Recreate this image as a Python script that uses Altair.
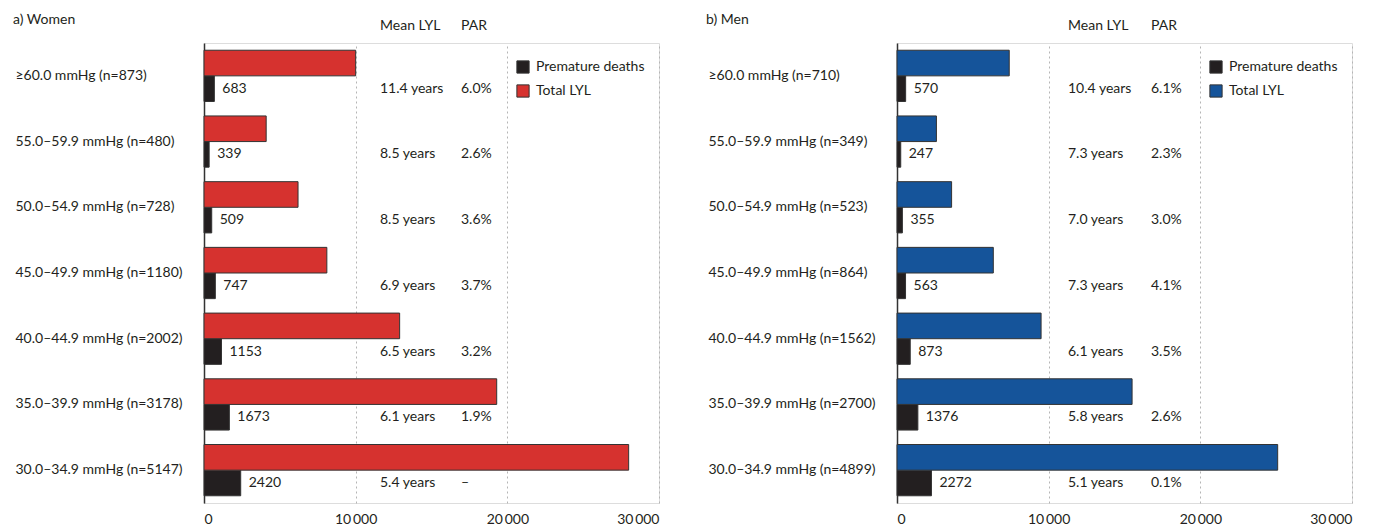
import altair as alt
import pandas as pd

# ---- data -------------------------------------------------------------
women_groups = ["≥60.0 mmHg (n=873)", "55.0–59.9 mmHg (n=480)", "50.0–54.9 mmHg (n=728)",
                "45.0–49.9 mmHg (n=1180)", "40.0–44.9 mmHg (n=2002)", "35.0–39.9 mmHg (n=3178)",
                "30.0–34.9 mmHg (n=5147)"]
women_deaths = [683, 339, 509, 747, 1153, 1673, 2420]
women_lyl = [10000, 4100, 6200, 8100, 12900, 19300, 28000]
women_mean = ["11.4 years", "8.5 years", "8.5 years", "6.9 years", "6.5 years", "6.1 years", "5.4 years"]
women_par = ["6.0%", "2.6%", "3.6%", "3.7%", "3.2%", "1.9%", "–"]

men_groups = ["≥60.0 mmHg (n=710)", "55.0–59.9 mmHg (n=349)", "50.0–54.9 mmHg (n=523)",
              "45.0–49.9 mmHg (n=864)", "40.0–44.9 mmHg (n=1562)", "35.0–39.9 mmHg (n=2700)",
              "30.0–34.9 mmHg (n=4899)"]
men_deaths = [570, 247, 355, 563, 873, 1376, 2272]
men_lyl = [7400, 2600, 3600, 6350, 9500, 15500, 25100]
men_mean = ["10.4 years", "7.3 years", "7.0 years", "7.3 years", "6.1 years", "5.8 years", "5.1 years"]
men_par = ["6.1%", "2.3%", "3.0%", "4.1%", "3.5%", "2.6%", "0.1%"]

x_ticks = [0, 10000, 20000, 30000]
series = ["Premature deaths", "Total LYL"]

FONT = "Lato"
TEXT = "#231f20"
DARK = "#231f20"
RED = "#d6322f"
BLUE = "#15549a"


def panel(title, groups, deaths, lyl, mean, par, colour, mean_x, par_x):
    long = pd.DataFrame({
        "group": groups * 2,
        "series": ["Premature deaths"] * len(groups) + ["Total LYL"] * len(groups),
        "value": deaths + lyl,
    })
    table = pd.DataFrame({
        "group": groups,
        "series": ["Premature deaths"] * len(groups),
        "deaths": deaths,
        "mean": mean,
        "par": par,
    })

    y = alt.Y("group:N", sort=groups, title=None,
              scale=alt.Scale(paddingInner=0.22, paddingOuter=0.11),
              axis=alt.Axis(labelAlign="left", labelPadding=189, ticks=False,
                            domainColor="#333333", domainWidth=1.5,
                            labelFont=FONT, labelFontSize=14, labelColor=TEXT))
    y_off = alt.YOffset("series:N", sort=["Total LYL", "Premature deaths"],
                        scale=alt.Scale(paddingInner=0, paddingOuter=0))
    x = alt.X("value:Q", title=None,
              scale=alt.Scale(domain=[0, 30000], nice=False),
              axis=alt.Axis(values=x_ticks, domain=False, ticks=False, labelPadding=9,
                            labelFont=FONT, labelFontSize=14, labelColor=TEXT,
                            grid=True, gridDash=[2, 3], gridColor="#b5b5b5", gridWidth=1,
                            labelExpr="datum.value == 0 ? '0' : replace(format(datum.value, ','), ',', '\u2009')"))

    bars = alt.Chart(long).mark_bar(stroke="#333333", strokeWidth=1).encode(
        y=y, yOffset=y_off, x=x,
        color=alt.Color("series:N", sort=series,
                        scale=alt.Scale(domain=series, range=[DARK, colour]),
                        legend=alt.Legend(title=None, orient="none", legendX=312, legendY=17,
                                          symbolType="square", symbolSize=150,
                                          symbolStrokeColor="#333333", symbolStrokeWidth=1,
                                          labelFont=FONT, labelFontSize=14, labelColor=TEXT,
                                          rowPadding=6, labelOffset=6, padding=0)),
    )

    base_text = alt.Chart(table).encode(
        y=alt.Y("group:N", sort=groups),
        yOffset=alt.YOffset("series:N", sort=["Total LYL", "Premature deaths"]),
    )
    death_labels = base_text.mark_text(align="left", baseline="middle", dx=8,
                                       font=FONT, fontSize=14, color=TEXT).encode(
        x="deaths:Q", text="deaths:Q")
    mean_labels = base_text.mark_text(align="left", baseline="middle",
                                      font=FONT, fontSize=14, color=TEXT).encode(
        x=alt.value(mean_x), text="mean:N")
    par_labels = base_text.mark_text(align="left", baseline="middle",
                                     font=FONT, fontSize=14, color=TEXT).encode(
        x=alt.value(par_x), text="par:N")

    heads = pd.DataFrame({"label": ["Mean LYL", "PAR"], "px": [mean_x, par_x]})
    headers = alt.Chart(heads).mark_text(align="left", baseline="middle",
                                         font=FONT, fontSize=14, color=TEXT).encode(
        x=alt.X("px:Q", scale=None), y=alt.value(-17), text="label:N")
    title_mark = alt.Chart(pd.DataFrame({"t": [title]})).mark_text(
        align="left", baseline="middle", font=FONT, fontSize=14, color=TEXT).encode(
        x=alt.value(-191), y=alt.value(-23), text="t:N")

    return alt.layer(bars, death_labels, mean_labels, par_labels, headers, title_mark).resolve_scale(
        x="shared").properties(width=455, height=460)


left = panel("a) Women", women_groups, women_deaths, women_lyl, women_mean, women_par,
             RED, 176, 257)
right = panel("b) Men", men_groups, men_deaths, men_lyl, men_mean, men_par,
              BLUE, 171, 254)

chart = alt.hconcat(left, right, spacing=238, bounds="flush").resolve_scale(
    color="independent").resolve_legend(color="independent").properties(
    padding={"left": 12, "top": 12, "right": 0, "bottom": 0}
).configure_view(stroke=None).configure(background="white")

chart.save("out.html", embed_options={"renderer": "svg", "actions": False})
